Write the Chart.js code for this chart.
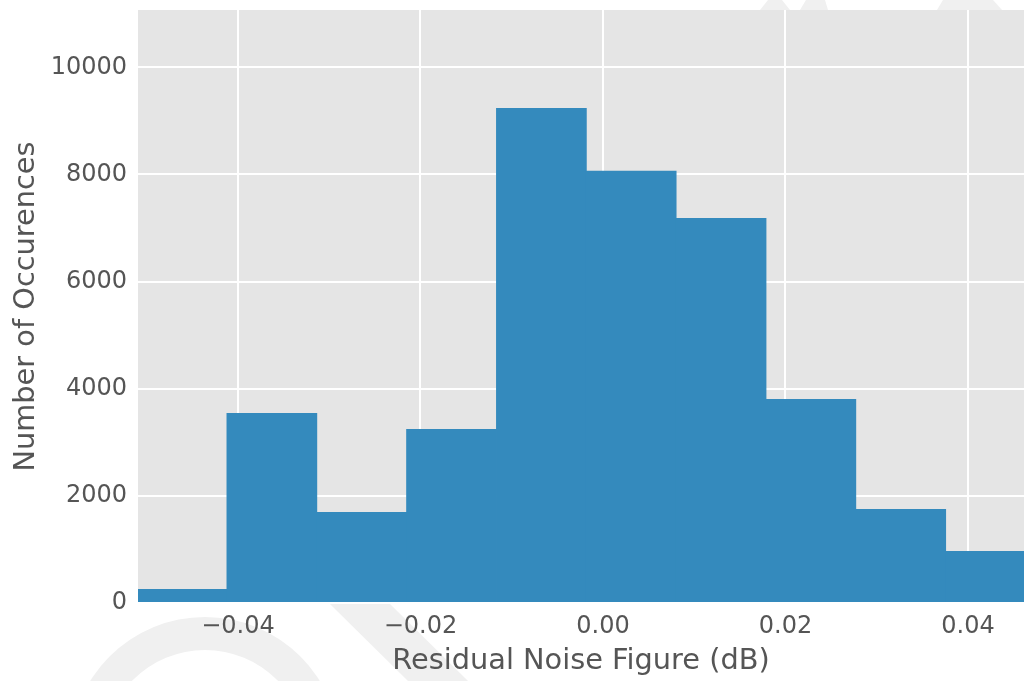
<!DOCTYPE html>
<html>
<head>
<meta charset="utf-8">
<script src="https://cdn.jsdelivr.net/npm/chart.js@4"></script>
<style>
  html, body { margin: 0; padding: 0; background: #ffffff; }
  canvas { display: block; }
</style>
</head>
<body>
<canvas id="chart" width="1024" height="681"></canvas>
<script>
// histogram of residual noise figure
const binCenters = [-0.04613, -0.03629, -0.02644, -0.01660, -0.00675, 0.00309, 0.01294, 0.02278, 0.03263, 0.04247];
const counts = [260, 3547, 1699, 3248, 9240, 8070, 7187, 3808, 1755, 971];
const xTicks = [-0.04, -0.02, 0.00, 0.02, 0.04];
const yTicks = [0, 2000, 4000, 6000, 8000, 10000];

const textColor = '#555555';
const fontFamily = '"DejaVu Sans", sans-serif';

// background: faint watermark + grey plot panel
const backdrop = {
    id: 'backdrop',
    beforeDraw(chart) {
        const { ctx, chartArea: a } = chart;
        ctx.save();
        ctx.fillStyle = '#ffffff';
        ctx.fillRect(0, 0, chart.width, chart.height);

        ctx.fillStyle = '#f0f0f0';
        ctx.beginPath();
        ctx.arc(205, 752, 135, 0, Math.PI * 2);
        ctx.arc(205, 752, 102, 0, Math.PI * 2, true);
        ctx.fill('evenodd');

        ctx.beginPath();
        ctx.moveTo(330, 604); ctx.lineTo(390, 604); ctx.lineTo(468, 681); ctx.lineTo(408, 681);
        ctx.closePath(); ctx.fill();
        ctx.beginPath();
        ctx.moveTo(768, 0); ctx.lineTo(782, 0); ctx.lineTo(790, 10); ctx.lineTo(760, 10);
        ctx.closePath(); ctx.fill();
        ctx.beginPath();
        ctx.moveTo(806, 0); ctx.lineTo(825, 0); ctx.lineTo(828, 10); ctx.lineTo(800, 10);
        ctx.closePath(); ctx.fill();
        ctx.beginPath();
        ctx.moveTo(943, 0); ctx.lineTo(993, 0); ctx.lineTo(1002, 10); ctx.lineTo(937, 10);
        ctx.closePath(); ctx.fill();

        ctx.fillStyle = '#e5e5e5';
        ctx.fillRect(a.left, a.top, a.right - a.left, a.bottom - a.top);
        ctx.restore();
    }
};

new Chart(document.getElementById('chart'), {
    type: 'bar',
    data: {
        datasets: [{
            data: binCenters.map((x, i) => ({ x, y: counts[i] })),
            backgroundColor: '#348ABD',
            borderWidth: 0,
            barPercentage: 1.01,
            categoryPercentage: 1
        }]
    },
    options: {
        responsive: false,
        animation: false,
        layout: { padding: { top: 10, right: 0, left: 0, bottom: 0 } },
        plugins: { legend: { display: false }, tooltip: { enabled: false } },
        scales: {
            x: {
                type: 'linear',
                offset: false,
                min: -0.05096,
                max: 0.04614,
                afterBuildTicks: s => { s.ticks = xTicks.map(v => ({ value: v })); },
                afterFit: s => { s.height = 78; s.paddingLeft = 0; s.paddingRight = 0; },
                grid: { color: '#ffffff', lineWidth: 2, drawTicks: false, offset: false },
                border: { display: false },
                ticks: {
                    padding: 9,
                    color: textColor,
                    font: { family: fontFamily, size: 24 },
                    callback: v => v.toFixed(2).replace('-', '\u2212')
                },
                title: {
                    display: true,
                    text: 'Residual Noise Figure (dB)',
                    color: textColor,
                    font: { family: fontFamily, size: 28.8 },
                    padding: { top: 0, bottom: 2 }
                }
            },
            y: {
                min: 0,
                max: 11070,
                afterBuildTicks: s => { s.ticks = yTicks.map(v => ({ value: v })); },
                afterFit: s => { s.width = 138; s.paddingTop = 0; s.paddingBottom = 0; },
                grid: { color: '#ffffff', lineWidth: 2, drawTicks: false },
                border: { display: false },
                ticks: {
                    padding: 11,
                    color: textColor,
                    font: { family: fontFamily, size: 24 },
                    callback: v => String(v)
                },
                title: {
                    display: true,
                    text: 'Number of Occurences',
                    color: textColor,
                    font: { family: fontFamily, size: 28.8 },
                    padding: { top: 9, bottom: 0 }
                }
            }
        }
    },
    plugins: [backdrop]
});
</script>
</body>
</html>
